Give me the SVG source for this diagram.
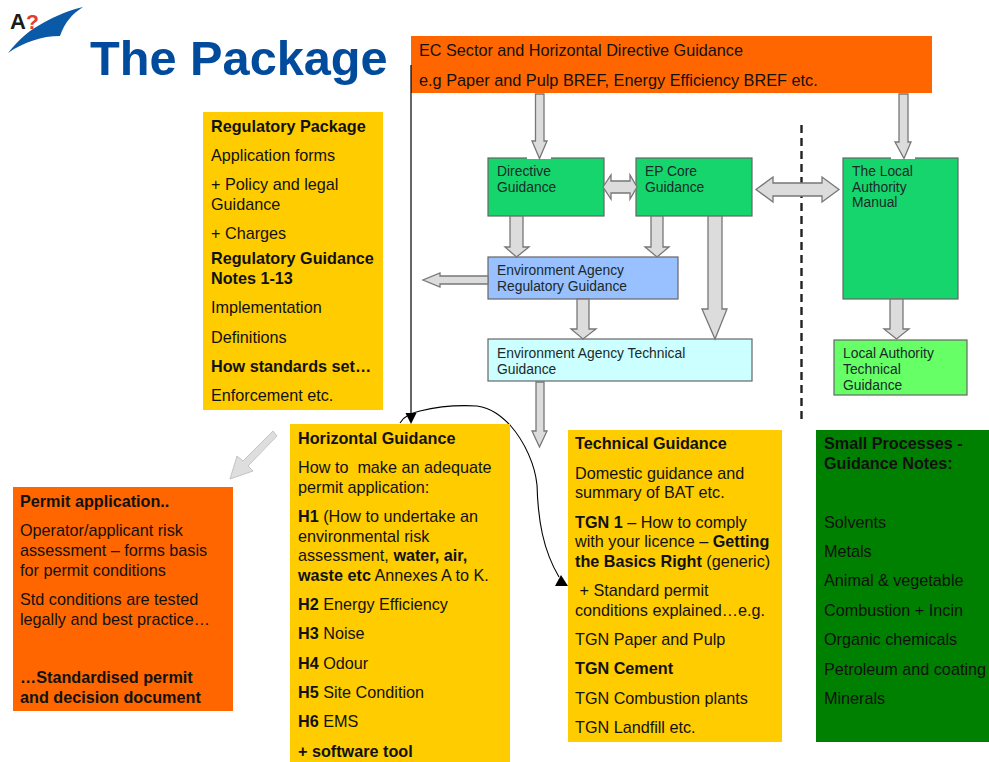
<svg xmlns="http://www.w3.org/2000/svg" width="989" height="762" viewBox="0 0 989 762">
<style>
text{font-family:"Liberation Sans",Arial,sans-serif;font-size:16.2px;fill:#111}
.b{font-weight:bold}
.d text{font-size:13.85px;fill:#1a2a2a}
.n{stroke:#666;stroke-width:1.2}
.a{fill:#dcdcdc;stroke:#777;stroke-width:1.3}
.y{fill:#ffcc00}
.o{fill:#ff6600}
</style>
<rect width="989" height="762" fill="#fff"/>
<g id="logo">
<path d="M8 53C20 38 30 30 43 23C55 16 70 10 83 7C72 14 65 22 60 36C42 36 24 42 8 53Z" fill="#0b5aa8"/>
<text x="10" y="29" class="b" style="font-size:22px;fill:#1a1a1a">A</text>
<text x="26" y="29" class="b" style="font-size:21px;fill:#e8392a">?</text>
</g>
<text id="title" x="90" y="74.500" class="b" style="font-size:48.700px;fill:#004b9b">The Package</text>
<g id="top-box"><rect x="411" y="36" width="521" height="57" class="o"/>
<text x="419" y="56">EC Sector and Horizontal Directive Guidance</text>
<text x="419" y="86" style="font-size:16.300px">e.g Paper and Pulp BREF, Energy Efficiency BREF etc.</text></g>
<g class="d">
<g id="directive"><rect x="488" y="158" width="116" height="58" fill="#16d56c" class="n"/><rect x="527" y="156" width="24" height="3" fill="#fff"/><text x="497" y="176">Directive</text><text x="497" y="192">Guidance</text></g>
<g id="ep-core"><rect x="636" y="158" width="116" height="58" fill="#16d56c" class="n"/><text x="645" y="176">EP Core</text><text x="645" y="192">Guidance</text></g>
<g id="la-manual"><rect x="843" y="158" width="115" height="141" fill="#16d56c" class="n"/><rect x="891" y="156" width="24" height="3" fill="#fff"/><text x="852" y="176">The Local</text><text x="852" y="192">Authority</text><text x="852" y="207">Manual</text></g>
<g id="ea-regulatory"><rect x="488" y="257" width="190" height="42" fill="#99c0ff" class="n"/><text x="497" y="275">Environment Agency</text><text x="497" y="291">Regulatory Guidance</text></g>
<g id="ea-technical"><rect x="488" y="339" width="264" height="42" fill="#ccffff" class="n"/><text x="497" y="358">Environment Agency Technical</text><text x="497" y="374">Guidance</text></g>
<g id="la-technical"><rect x="834" y="340" width="133" height="55" fill="#66ff66" class="n"/><text x="843" y="358">Local Authority</text><text x="843" y="374">Technical</text><text x="843" y="390">Guidance</text></g>
</g>
<g id="connectors">
<path d="M801.500 125V422" fill="none" stroke="#222" stroke-width="2.400" stroke-dasharray="8 5"/>
<path class="a" d="M535.500 94H544V141H547L539.500 158.500L532 141H535.500Z"/>
<path class="a" d="M899 94H908V142H911L904 158.500L895 142H899Z"/>
<path class="a" d="M603 187L611 175V181H630V175L637 187L630 199V193H611V199Z"/>
<path class="a" d="M756 189.500L773 177V183H822V177L839 189.500L822 202V196H773V202Z"/>
<path class="a" d="M510 216H523V247H529L516.500 257L505 247H510Z"/>
<path class="a" d="M651 216H663V247H669L657 257L645 247H651Z"/>
<path class="a" d="M708 216H722V309H727L715 339L702 309H708Z"/>
<path class="a" d="M488 276H440V273L423 280L440 287V284H488Z"/>
<path class="a" d="M577 299H589V329H596L583 339L571 329H577Z"/>
<path class="a" d="M890 299H903V329H909L896.500 339L884 329H890Z"/>
<path class="a" d="M536 382H544V431H547L539.500 447L532 431H536Z"/>
<path d="M277 436L273 431L243 461L237 456L230 479L253 471L248 466Z" fill="#dedede" stroke="#c4c4c4"/>
<path d="M411 65V415" fill="none" stroke="#000" stroke-width="1.200"/>
<path d="M405.500 413H416.500L411 424Z" fill="#000"/>
<path d="M400 423C405 415 412 413 420 411C440 406 460 405 477 406C492 408 502 417 510 425C525 442 535 465 537 485C538 520 543 550 559 577" fill="none" stroke="#000" stroke-width="1.100"/>
</g>
<g id="regulatory-package"><rect x="203" y="112" width="180" height="298" class="y"/>
<text x="211" y="132" class="b">Regulatory Package</text>
<text x="211" y="161">Application forms</text>
<text x="211" y="190">+ Policy and legal</text>
<text x="211" y="210">Guidance</text>
<text x="211" y="239">+ Charges</text>
<text x="211" y="264" class="b">Regulatory Guidance</text>
<text x="211" y="284" class="b">Notes 1-13</text>
<text x="211" y="313">Implementation</text>
<text x="211" y="343">Definitions</text>
<text x="211" y="372" class="b">How standards set…</text>
<text x="211" y="401">Enforcement etc.</text></g>
<g id="horizontal-guidance"><rect x="290" y="424" width="220" height="338" class="y"/>
<text x="298" y="444" class="b">Horizontal Guidance</text>
<text x="298" y="473" xml:space="preserve">How to  make an adequate</text>
<text x="298" y="493">permit application:</text>
<text x="298" y="522"><tspan class="b">H1</tspan> (How to undertake an</text>
<text x="298" y="542">environmental risk</text>
<text x="298" y="561">assessment, <tspan class="b">water, air,</tspan></text>
<text x="298" y="581"><tspan class="b">waste etc</tspan> Annexes A to K.</text>
<text x="298" y="610"><tspan class="b">H2</tspan> Energy Efficiency</text>
<text x="298" y="639"><tspan class="b">H3</tspan> Noise</text>
<text x="298" y="669"><tspan class="b">H4</tspan> Odour</text>
<text x="298" y="698"><tspan class="b">H5</tspan> Site Condition</text>
<text x="298" y="727"><tspan class="b">H6</tspan> EMS</text>
<text x="298" y="757"><tspan class="b">+ software tool</tspan></text></g>
<g id="technical-guidance"><rect x="568" y="430" width="214" height="312" class="y"/>
<text x="575" y="449" class="b">Technical Guidance</text>
<text x="575" y="479">Domestic guidance and</text>
<text x="575" y="498">summary of BAT etc.</text>
<text x="575" y="528"><tspan class="b">TGN 1</tspan> – How to comply</text>
<text x="575" y="547">with your licence – <tspan class="b">Getting</tspan></text>
<text x="575" y="567" class="b">the Basics Right <tspan style="font-weight:normal">(generic)</tspan></text>
<text x="579.500" y="596">+ Standard permit</text>
<text x="575" y="616">conditions explained…e.g.</text>
<text x="575" y="645">TGN Paper and Pulp</text>
<text x="575" y="674" class="b">TGN Cement</text>
<text x="575" y="704">TGN Combustion plants</text>
<text x="575" y="733">TGN Landfill etc.</text></g>
<path d="M561 575L568 586H555Z" fill="#000"/>
<g id="small-processes"><rect x="816" y="430" width="173" height="312" fill="#008000"/>
<text x="824" y="449" class="b">Small Processes -</text>
<text x="824" y="469" class="b">Guidance Notes:</text>
<text x="824" y="528">Solvents</text>
<text x="824" y="557">Metals</text>
<text x="824" y="586">Animal &amp; vegetable</text>
<text x="824" y="616">Combustion + Incin</text>
<text x="824" y="645">Organic chemicals</text>
<text x="824" y="675">Petroleum and coating</text>
<text x="824" y="704">Minerals</text></g>
<g id="permit-application"><rect x="13" y="487" width="220" height="224" class="o"/>
<text x="20" y="507" class="b">Permit application..</text>
<text x="20" y="536">Operator/applicant risk</text>
<text x="20" y="556">assessment – forms basis</text>
<text x="20" y="576">for permit conditions</text>
<text x="20" y="605">Std conditions are tested</text>
<text x="20" y="625">legally and best practice…</text>
<text x="20" y="683" class="b">…Standardised permit</text>
<text x="20" y="703" class="b">and decision document</text></g>
</svg>
